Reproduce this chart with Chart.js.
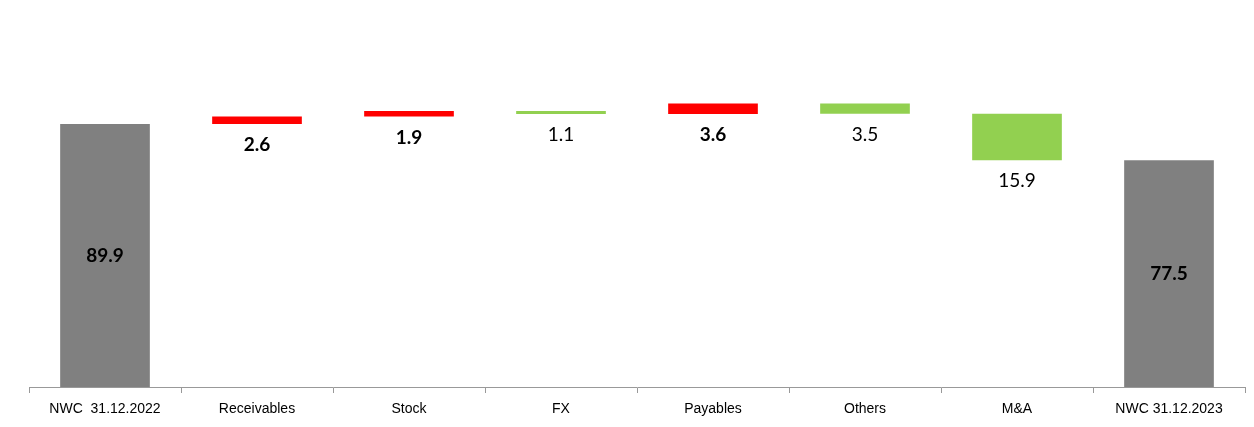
<!DOCTYPE html>
<html>
<head>
<meta charset="utf-8">
<script src="https://cdn.jsdelivr.net/npm/chart.js@4"></script>
<style>
  html, body { margin: 0; padding: 0; background: #fff; }
  #wrap { width: 1254px; height: 427px; }
</style>
</head>
<body>
<div id="wrap"><canvas id="nwcChart"></canvas></div>
<script>
// NWC bridge 2022 -> 2023
const categories = ['NWC  31.12.2022', 'Receivables', 'Stock', 'FX', 'Payables', 'Others', 'M&A', 'NWC 31.12.2023'];
const changes = [89.9, 2.6, 1.9, -1.1, 3.6, -3.5, -15.9, 77.5];
const isTotal = [true, false, false, false, false, false, false, true];

// build floating bars [from, to]
let running = 0;
const bars = changes.map((v, i) => {
    if (isTotal[i]) { running = v; return [0, v]; }
    const from = running;
    running = running + v;
    return [from, running];
});
const colors = changes.map((v, i) => isTotal[i] ? '#808080' : (v > 0 ? '#FF0000' : '#92D050'));

const labelPlugin = {
    id: 'barLabels',
    afterDatasetsDraw(chart) {
        const ctx = chart.ctx;
        const meta = chart.getDatasetMeta(0);
        ctx.save();
        ctx.textAlign = 'center';
        ctx.textBaseline = 'middle';
        ctx.fillStyle = '#000';
        meta.data.forEach((bar, i) => {
            const v = changes[i];
            const bold = isTotal[i] || v > 0;
            ctx.font = (bold ? 'bold ' : '') + '19px Lato';
            const top = Math.min(bar.y, bar.base);
            const bottom = Math.max(bar.y, bar.base);
            const y = isTotal[i] ? (top + bottom) / 2 : bottom + 21;
            ctx.fillText(Math.abs(v).toFixed(1), bar.x, y);
        });
        ctx.restore();
    }
};

new Chart(document.getElementById('nwcChart'), {
    type: 'bar',
    data: {
        labels: categories,
        datasets: [{
            data: bars,
            backgroundColor: colors,
            borderWidth: 0,
            categoryPercentage: 1,
            barPercentage: 0.59
        }]
    },
    options: {
        responsive: true,
        maintainAspectRatio: false,
        animation: false,
        layout: { padding: { top: 36, left: 29, right: 9, bottom: 0 } },
        plugins: { legend: { display: false }, tooltip: { enabled: false } },
        scales: {
            x: {
                afterFit: (scale) => { scale.height = 40; },
                grid: { drawOnChartArea: false, drawTicks: true, tickLength: 6, color: '#999' },
                border: { color: '#999', width: 1 },
                ticks: { color: '#000', font: { family: 'Liberation Sans', size: 14 }, padding: 8, maxRotation: 0 }
            },
            y: {
                display: false,
                min: 0,
                max: 120
            }
        }
    },
    plugins: [labelPlugin]
});
</script>
</body>
</html>
